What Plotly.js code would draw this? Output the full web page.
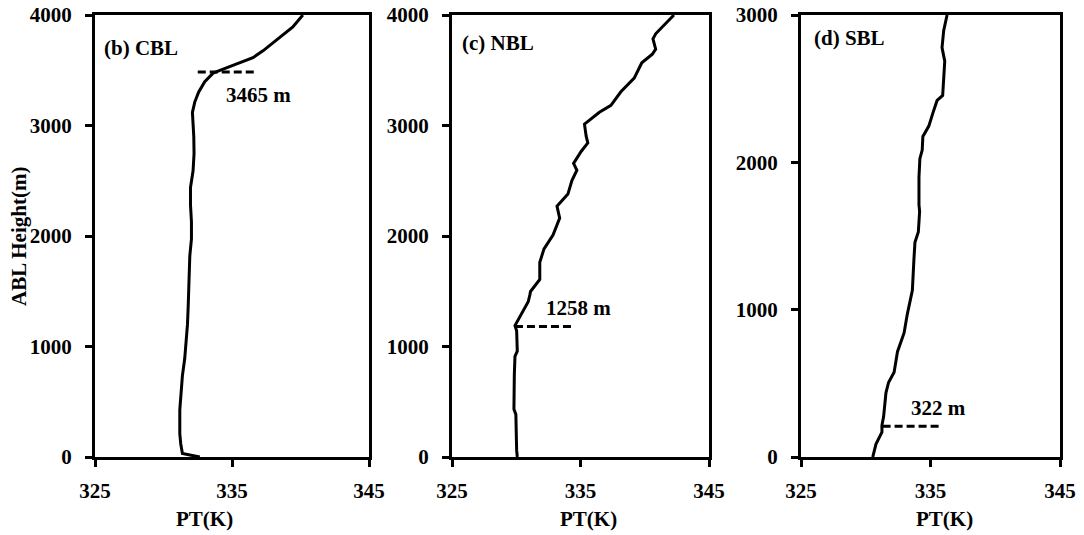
<!DOCTYPE html>
<html>
<head>
<meta charset="utf-8">
<script src="https://cdn.plot.ly/plotly-3.0.1.min.js"></script>
<style>html,body{margin:0;padding:0;background:#fff;}#chart{width:1084px;height:535px;}</style>
</head>
<body>
<div id="chart"></div>
<script>
// Potential temperature profiles (K) vs height (m)
const cblPT = [332.65,331.38,331.26,331.19,331.19,331.26,331.38,331.55,331.67,331.75,331.80,331.84,331.84,331.92,332.04,332.04,331.97,331.97,332.16,332.23,332.21,332.16,332.11,332.28,332.57,333.01,333.62,334.59,335.56,336.53,337.26,338.23,338.83,339.44,340.17];
const cblH  = [0,31,118,210,427,551,736,891,1046,1200,1355,1510,1665,1819,1974,2129,2283,2438,2593,2747,2902,3057,3119,3212,3304,3397,3474,3521,3567,3614,3676,3769,3830,3892,4000];

const nblPT = [330.08,330.03,329.97,329.82,329.85,329.90,330.08,330.03,329.90,330.41,330.93,331.06,331.11,331.83,331.83,332.16,332.86,333.38,333.17,334.02,334.33,334.72,334.46,335.05,335.57,335.44,335.31,336.47,337.37,338.14,339.18,339.77,340.59,340.85,340.64,340.85,342.27];
const nblH  = [0,62,386,432,741,911,958,1143,1189,1297,1405,1467,1498,1606,1761,1884,2008,2162,2270,2379,2502,2595,2657,2765,2842,2904,3012,3120,3182,3305,3429,3568,3645,3691,3784,3830,4000];

const sblPT = [330.54,330.79,331.25,331.25,331.38,331.56,331.76,332.19,332.45,332.96,333.21,333.60,333.72,333.80,334.06,334.16,334.11,334.11,334.18,334.36,334.41,334.87,335.20,335.51,335.94,336.02,336.10,335.89,336.02,336.28];
const sblH  = [0,88,169,215,274,436,506,575,715,842,970,1132,1341,1457,1527,1666,1712,1898,2025,2083,2176,2246,2339,2420,2454,2570,2687,2779,2895,3000];

// ABL height markers (dashed lines)
const cblMarkX = [332.5, 336.8], cblMarkY = [3485, 3485];
const nblMarkX = [329.9, 334.3], nblMarkY = [1180, 1180];
const sblMarkX = [331.3, 335.7], sblMarkY = [209, 209];

const panelLabels = ["(b) CBL", "(c) NBL", "(d) SBL"];
const ablLabels = ["3465 m", "1258 m", "322 m"];
const xTicks = [325, 335, 345];
const yTicks4000 = [0, 1000, 2000, 3000, 4000];
const yTicks3000 = [0, 1000, 2000, 3000];

const FONT = "Liberation Serif";
const lineStyle = {color: "#000", width: 3};
const dashStyle = {color: "#000", width: 3, dash: "8px,4px"};

const traces = [
  {x: cblPT, y: cblH, xaxis: "x", yaxis: "y", mode: "lines", line: lineStyle},
  {x: cblMarkX, y: cblMarkY, xaxis: "x", yaxis: "y", mode: "lines", line: dashStyle},
  {x: nblPT, y: nblH, xaxis: "x2", yaxis: "y2", mode: "lines", line: lineStyle},
  {x: nblMarkX, y: nblMarkY, xaxis: "x2", yaxis: "y2", mode: "lines", line: dashStyle},
  {x: sblPT, y: sblH, xaxis: "x3", yaxis: "y3", mode: "lines", line: lineStyle},
  {x: sblMarkX, y: sblMarkY, xaxis: "x3", yaxis: "y3", mode: "lines", line: dashStyle}
];

const tickFont = {family: FONT, size: 21, color: "#000", weight: "bold"};
const Y_DOMAIN = [1 - 457/535, 1 - 15/535];
function xAx(domain, anchor) {
  return {domain: domain, anchor: anchor, range: [325, 345], tickvals: xTicks, ticktext: xTicks.map(String),
    showgrid: false, zeroline: false, showline: true, linecolor: "#000", linewidth: 3, mirror: true,
    ticks: "outside", ticklen: 7, tickwidth: 3, tickcolor: "#000", tickfont: tickFont,
    ticklabelstandoff: 6, fixedrange: true};
}
function yAx(anchor, top, ticks) {
  return {domain: Y_DOMAIN, anchor: anchor, range: [0, top], tickvals: ticks, ticktext: ticks.map(String),
    showgrid: false, zeroline: false, showline: true, linecolor: "#000", linewidth: 3, mirror: true,
    ticks: "outside", ticklen: 7, tickwidth: 3, tickcolor: "#000", tickfont: tickFont,
    ticklabelstandoff: 9, fixedrange: true};
}

const annFont = {family: FONT, size: 21, color: "#000", weight: "bold"};
const annotations = [
  {text: panelLabels[0], xref: "x domain", yref: "y domain", x: 0.025, y: 0.926, xanchor: "left", yanchor: "middle", showarrow: false, font: annFont},
  {text: panelLabels[1], xref: "x2 domain", yref: "y2 domain", x: 0.03, y: 0.9375, xanchor: "left", yanchor: "middle", showarrow: false, font: annFont},
  {text: panelLabels[2], xref: "x3 domain", yref: "y3 domain", x: 0.042, y: 0.947, xanchor: "left", yanchor: "middle", showarrow: false, font: annFont},
  {text: ablLabels[0], xref: "x", yref: "y", x: 336.9, y: 3273, xanchor: "center", yanchor: "middle", showarrow: false, font: annFont},
  {text: ablLabels[1], xref: "x2", yref: "y2", x: 334.87, y: 1344, xanchor: "center", yanchor: "middle", showarrow: false, font: annFont},
  {text: ablLabels[2], xref: "x3", yref: "y3", x: 335.59, y: 332, xanchor: "center", yanchor: "middle", showarrow: false, font: annFont},
  {text: "PT(K)", xref: "paper", yref: "paper", x: 204/1084, y: 1 - 519/535, xanchor: "center", yanchor: "middle", showarrow: false, font: annFont},
  {text: "PT(K)", xref: "paper", yref: "paper", x: 588/1084, y: 1 - 519/535, xanchor: "center", yanchor: "middle", showarrow: false, font: annFont},
  {text: "PT(K)", xref: "paper", yref: "paper", x: 944/1084, y: 1 - 519/535, xanchor: "center", yanchor: "middle", showarrow: false, font: annFont},
  {text: "ABL Height(m)", xref: "paper", yref: "paper", x: 19/1084, y: 1 - 237/535, xanchor: "center", yanchor: "middle", textangle: -90, showarrow: false, font: annFont}
];

const layout = {
  width: 1084, height: 535,
  margin: {l: 0, r: 0, t: 0, b: 0},
  paper_bgcolor: "#fff", plot_bgcolor: "#fff",
  showlegend: false,
  font: {family: FONT, color: "#000"},
  xaxis: xAx([95/1084, 369/1084], "y"),
  yaxis: yAx("x", 4000, yTicks4000),
  xaxis2: xAx([452/1084, 709/1084], "y2"),
  yaxis2: yAx("x2", 4000, yTicks4000),
  xaxis3: xAx([801/1084, 1060/1084], "y3"),
  yaxis3: yAx("x3", 3000, yTicks3000),
  annotations: annotations
};

Plotly.newPlot("chart", traces, layout, {staticPlot: true, displayModeBar: false});
</script>
</body>
</html>
